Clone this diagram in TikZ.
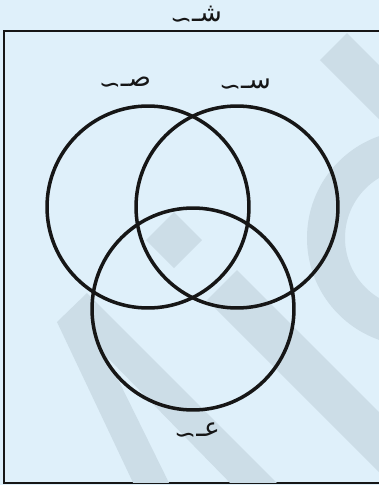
\documentclass[tikz,border=0pt]{standalone}
\usepackage{fontspec}
\newfontfamily\arabicfont[Script=Arabic]{DejaVu Sans}
\TeXXeTstate=1
\definecolor{SheetBlue}{HTML}{DFF0FA}
\definecolor{MarkBlue}{HTML}{CCDDE7}
\definecolor{InkBlack}{HTML}{161616}
\usetikzlibrary{positioning}
% Set name with its wavy tail
\newcommand{\setname}[1]{\raisebox{-0.28em}{∼}\beginR #1ـ\endR}
\tikzset{
    % Set circle style
    setcircle/.style={
        circle,
        draw=InkBlack,
        line width=2pt,
        minimum size=4.04cm,
        inner sep=0pt
    },
    % Set name style
    setlabel/.style={
        text=InkBlack,
        inner sep=0pt,
        font=\fontsize{15}{17}\selectfont\arabicfont
    },
    % Universal set frame
    framebox/.style={
        draw=InkBlack,
        line width=1.5pt,
        fill=SheetBlue
    },
    % Watermark band
    markband/.style={
        fill=MarkBlue,
        draw=none
    }
}

\begin{document}
\begin{tikzpicture}[x=0.02cm, y=-0.02cm]
    % Page
    \useasboundingbox[fill=SheetBlue] (0,0) rectangle (379,485);

    % Universal set
    \draw[framebox] (4,31) rectangle (382,483);
    \node[setlabel] (univ) at (196,17) {\setname{ش}};

    % Watermark
    \begin{scope}
        \clip (5,32) rectangle (379,482);
        \fill[markband] (57,322) -- (87,293) -- (285,491) -- (238,491) -- (107,357) -- (173,491) -- (137,491) -- cycle;
        \fill[markband] (146,240) -- (174,212) -- (202,240) -- (174,268) -- cycle;
        \fill[markband] (207,300) -- (237,270) -- (437,470) -- (407,500) -- cycle;
        \fill[markband] (320,60) -- (347,33) -- (447,133) -- (420,160) -- cycle;
        \fill[markband, even odd rule] (415,238) circle (108) (415,238) circle (70);
    \end{scope}

    % Sets
    \node[setcircle] (sad) at (148,207) {};
    \node[setcircle] (sin) at (237,207) {};
    \node[setcircle] (ain) at (193,309) {};

    % Set names
    \node[setlabel] (sadname) at (125,85) {\setname{ص}};
    \node[setlabel] (sinname) at (245,87) {\setname{س}};
    \node[setlabel] (ainname) at (197,433) {\setname{ع}};
\end{tikzpicture}
\end{document}
